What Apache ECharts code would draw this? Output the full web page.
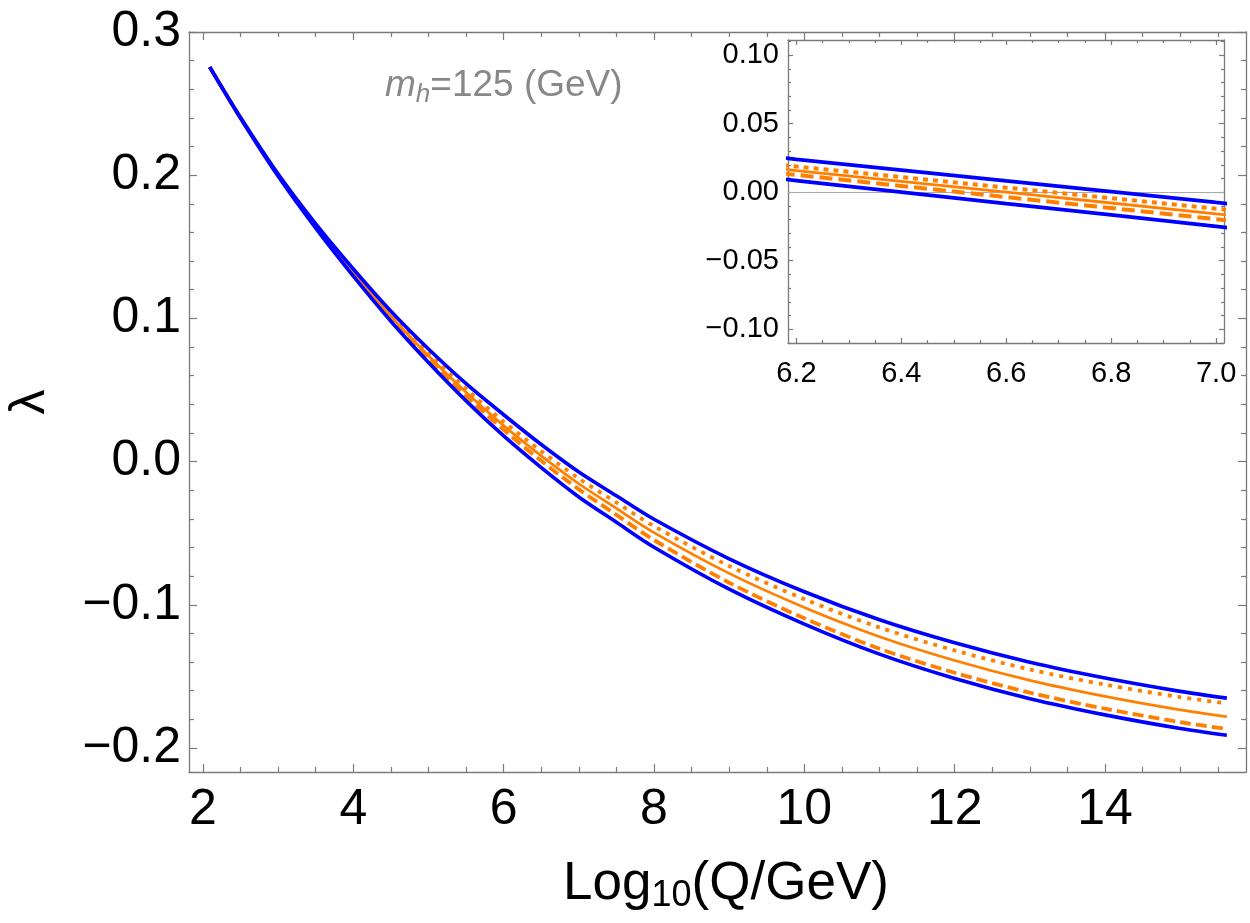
<!DOCTYPE html>
<html>
<head>
<meta charset="utf-8">
<script src="https://cdn.jsdelivr.net/npm/echarts@6/dist/echarts.min.js"></script>
<style>
  html, body { margin: 0; padding: 0; background: #fff; }
  #chart { width: 1250px; height: 923px; }
</style>
</head>
<body>
<div id="chart"></div>
<script>
// main panel: lambda vs Log10(Q/GeV)
const logQ = [2.09, 2.5, 3, 3.5, 4, 4.5, 5, 5.5, 6, 6.5, 7, 7.5, 8, 9, 10, 11, 12, 13, 14, 15, 15.62]
const lamBlueUp = [0.2755, 0.2403, 0.2008, 0.1660, 0.1345, 0.1050, 0.0786, 0.0544, 0.0327, 0.0119, -0.0073, -0.0239, -0.0403, -0.0679, -0.0909, -0.1105, -0.1266, -0.1402, -0.1512, -0.1605, -0.1652]
const lamDotted = [0.2755, 0.2401, 0.2003, 0.1651, 0.1330, 0.1029, 0.0757, 0.0507, 0.0279, 0.0073, -0.0118, -0.0286, -0.0451, -0.0729, -0.0961, -0.1159, -0.1319, -0.1452, -0.1558, -0.1645, -0.1688]
const lamCentral = [0.2755, 0.2400, 0.2000, 0.1645, 0.1320, 0.1015, 0.0739, 0.0484, 0.0251, 0.0040, -0.0155, -0.0327, -0.0496, -0.0781, -0.1019, -0.1223, -0.1389, -0.1528, -0.1640, -0.1734, -0.1781]
const lamDashed = [0.2755, 0.2399, 0.1997, 0.1639, 0.1310, 0.1000, 0.0719, 0.0459, 0.0221, 0.0005, -0.0194, -0.0372, -0.0548, -0.0846, -0.1095, -0.1307, -0.1475, -0.1614, -0.1726, -0.1820, -0.1867]
const lamBlueLow = [0.2755, 0.2397, 0.1992, 0.1630, 0.1295, 0.0980, 0.0692, 0.0424, 0.0179, -0.0042, -0.0247, -0.0424, -0.0598, -0.0891, -0.1135, -0.1345, -0.1515, -0.1656, -0.1769, -0.1864, -0.1911]

// inset: zoom around the zero crossing
const insetQ = [6.1, 6.2, 6.4, 6.6, 6.8, 7.0, 7.1]
const inBlueUp = [0.0280, 0.0240, 0.0161, 0.0082, 0.0004, -0.0075, -0.0114]
const inDotted = [0.0226, 0.0187, 0.0110, 0.0033, -0.0044, -0.0121, -0.0160]
const inCentral = [0.0198, 0.0158, 0.0079, 0.0000, -0.0079, -0.0158, -0.0197]
const inDashed = [0.0166, 0.0126, 0.0045, -0.0036, -0.0116, -0.0197, -0.0237]
const inBlueLow = [0.0127, 0.0085, 0.0001, -0.0083, -0.0166, -0.0250, -0.0292]

// tick labels
const mainXTicks = [2, 4, 6, 8, 10, 12, 14]
const mainYTicks = [-0.2, -0.1, 0, 0.1, 0.2, 0.3]
const insetXTicks = [6.2, 6.4, 6.6, 6.8, 7.0]
const insetYTicks = [-0.1, -0.05, 0, 0.05, 0.1]

const BLUE = '#0000ff'
const ORANGE = '#ff8000'
const FRAME = '#7a7a7a'
const FONT = 'Liberation Sans, Arial, Helvetica, sans-serif'

// minor tick positions between the labelled ones
function steps (from, to, step, skip) {
  const out = []
  for (let v = from; v <= to + 1e-9; v += step) {
    const r = Math.round(v * 10000) / 10000
    if (!skip.some(s => Math.abs(s - r) < 1e-6)) out.push(r)
  }
  return out
}
const mainXMinor = steps(1.5, 15.5, 0.5, mainXTicks)
const mainYMinor = steps(-0.24, 0.3, 0.02, mainYTicks)
const insetXMinor = steps(6.15, 7.0, 0.05, insetXTicks)
const insetYMinor = steps(-0.11, 0.11, 0.01, insetYTicks)

const minus = s => s.replace('-', '\u2212')

function axis (grid, pos, min, max, ticks, len, line, label) {
  return {
    type: 'value',
    gridIndex: grid,
    position: pos,
    min,
    max,
    splitLine: { show: false },
    axisLine: { show: line, onZero: false, lineStyle: { color: FRAME, width: 1.3 } },
    axisTick: { show: true, inside: true, length: len, customValues: ticks, lineStyle: { color: FRAME, width: 1.2 } },
    axisLabel: label ? Object.assign({ customValues: ticks, color: '#000', fontFamily: FONT }, label) : { show: false }
  }
}

const mX = [1.814, 15.875]
const mY = [-0.2168, 0.3]
const iX = [6.184, 7.015]
const iY = [-0.110, 0.111]

const xAxis = [
  axis(0, 'bottom', mX[0], mX[1], mainXTicks, 8, true, { fontSize: 50, margin: 13, formatter: v => String(v) }),
  axis(0, 'bottom', mX[0], mX[1], mainXMinor, 5, false),
  axis(0, 'top', mX[0], mX[1], mainXTicks, 8, true),
  axis(0, 'top', mX[0], mX[1], mainXMinor, 5, false),
  axis(1, 'bottom', iX[0], iX[1], insetXTicks, 5, true, { fontSize: 29, margin: 16, formatter: v => v.toFixed(1) }),
  axis(1, 'bottom', iX[0], iX[1], insetXMinor, 3, false),
  axis(1, 'top', iX[0], iX[1], insetXTicks, 5, true),
  axis(1, 'top', iX[0], iX[1], insetXMinor, 3, false)
]
const yAxis = [
  axis(0, 'left', mY[0], mY[1], mainYTicks, 8, true, { fontSize: 50, margin: 8, formatter: v => minus(v.toFixed(1)) }),
  axis(0, 'left', mY[0], mY[1], mainYMinor, 5, false),
  axis(0, 'right', mY[0], mY[1], mainYTicks, 8, true),
  axis(0, 'right', mY[0], mY[1], mainYMinor, 5, false),
  axis(1, 'left', iY[0], iY[1], insetYTicks, 5, true, { fontSize: 29, margin: 9, formatter: v => minus(v.toFixed(2)) }),
  axis(1, 'left', iY[0], iY[1], insetYMinor, 3, false),
  axis(1, 'right', iY[0], iY[1], insetYTicks, 5, true),
  axis(1, 'right', iY[0], iY[1], insetYMinor, 3, false)
]

function curve (xs, ys, color, width, dash, axisIdx, smooth) {
  return {
    type: 'line',
    xAxisIndex: axisIdx,
    yAxisIndex: axisIdx,
    data: xs.map((x, i) => [x, ys[i]]),
    showSymbol: false,
    smooth,
    clip: true,
    silent: true,
    lineStyle: { color, width, type: dash }
  }
}

const series = [
  curve(logQ, lamDotted, ORANGE, 3.8, [4, 6], 0, 0.3),
  curve(logQ, lamCentral, ORANGE, 2.7, 'solid', 0, 0.3),
  curve(logQ, lamDashed, ORANGE, 3.8, [11, 5], 0, 0.3),
  curve(logQ, lamBlueUp, BLUE, 3.6, 'solid', 0, 0.3),
  curve(logQ, lamBlueLow, BLUE, 3.6, 'solid', 0, 0.3),
  curve(insetQ, inDotted, ORANGE, 4, [5, 5], 4, false),
  curve(insetQ, inCentral, ORANGE, 2.8, 'solid', 4, false),
  curve(insetQ, inDashed, ORANGE, 4, [13, 6], 4, false),
  curve(insetQ, inBlueUp, BLUE, 3.8, 'solid', 4, false),
  curve(insetQ, inBlueLow, BLUE, 3.8, 'solid', 4, false)
]
// thin zero axis inside the inset
series[6].markLine = {
  silent: true,
  symbol: 'none',
  label: { show: false },
  lineStyle: { color: '#aaaaaa', width: 1, type: 'solid' },
  data: [{ yAxis: 0 }],
  z: 1
}

const option = {
  animation: false,
  backgroundColor: '#fff',
  grid: [
    { left: 189, top: 32, width: 1057, height: 740, show: false },
    { left: 788, top: 40, width: 436, height: 303, show: true, backgroundColor: '#fff', borderWidth: 0 }
  ],
  xAxis,
  yAxis,
  series,
  graphic: [
    {
      type: 'text',
      x: 385,
      y: 86,
      style: {
        text: '{m|m}{s|h}{n|=125 (GeV)}',
        verticalAlign: 'middle',
        fill: '#888888',
        rich: {
          m: { fontFamily: FONT, fontStyle: 'italic', fontSize: 37, lineHeight: 44, color: '#888888' },
          s: { fontFamily: FONT, fontStyle: 'italic', fontSize: 26, lineHeight: 28, verticalAlign: 'bottom', color: '#888888' },
          n: { fontFamily: FONT, fontSize: 37, lineHeight: 44, color: '#888888' }
        }
      }
    },
    {
      type: 'text',
      x: 726,
      y: 884,
      style: {
        text: '{a|Log}{s|10}{a|(Q/GeV)}',
        align: 'center',
        verticalAlign: 'middle',
        fill: '#000',
        rich: {
          a: { fontFamily: FONT, fontSize: 53, lineHeight: 60, color: '#000' },
          s: { fontFamily: FONT, fontSize: 36, lineHeight: 36, verticalAlign: 'bottom', color: '#000' }
        }
      }
    },
    {
      type: 'text',
      x: 30,
      y: 402,
      rotation: Math.PI / 2,
      style: {
        text: 'λ',
        align: 'center',
        verticalAlign: 'middle',
        fontFamily: FONT,
        fontSize: 50,
        fill: '#000'
      }
    }
  ]
}

const chart = echarts.init(document.getElementById('chart'), null, { renderer: 'canvas' })
chart.setOption(option)
</script>
</body>
</html>
